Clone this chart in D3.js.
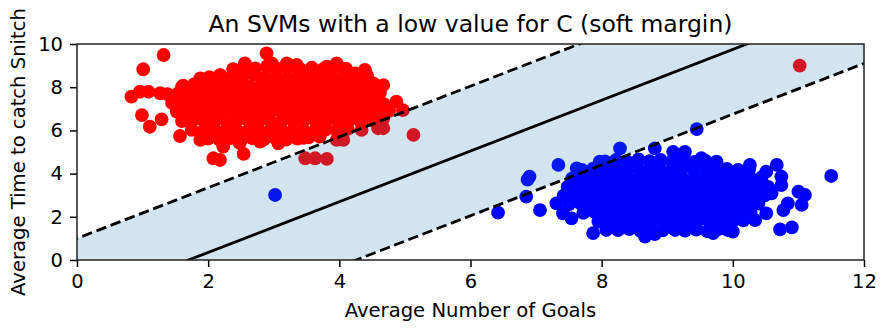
<!DOCTYPE html>
<html>
<head>
<meta charset="utf-8">
<script src="https://cdn.jsdelivr.net/npm/d3@7"></script>
<style>
  html, body { margin: 0; padding: 0; background: #fff; }
  svg { display: block; }
  text { font-family: "DejaVu Sans", sans-serif; fill: #000; }
</style>
</head>
<body>
<svg id="chart" width="884" height="328"></svg>
<script>
// ---------- data ----------
const titleText = "An SVMs with a low value for C (soft margin)";
const xLabelText = "Average Number of Goals";
const yLabelText = "Average Time to catch Snitch";
const xTicks = [0, 2, 4, 6, 8, 10, 12];
const yTicks = [0, 2, 4, 6, 8, 10];
const xDomain = [0, 12];
const yDomain = [0, 10];

// decision boundary y = slope * x + intercept
const lineSlope = 1.175;
const upperMarginIntercept = 1.0;
const boundaryIntercept = -2.0;
const lowerMarginIntercept = -5.0;

const redPoints = [
  [1.32,9.49],[1.01,8.83],[0.83,7.56],[0.96,7.79],[1.09,7.79],[0.99,6.71],[1.11,6.17],[1.29,6.51],[1.27,7.72],
  [1.57,5.74],[1.88,5.56],[2.08,4.71],[2.18,4.63],[2.54,4.91],[2.23,5.25],[2.89,9.57],[2.97,9.1],[2.56,9.1],
  [1.88,8.41],[1.6,8.02],[2.18,8.56],[3.2,9.1],[3.35,9.03],[3.81,8.95],[3.96,9.1],[4.24,8.64],[4.39,8.8],
  [4.52,8.18],[3.6,8.64],[3.48,4.71],[3.63,4.71],[3.81,4.68],[3.96,5.56],[4.06,5.56],[4.34,6.02],[4.59,6.1],
  [2.48,5.42],[2.79,5.48],[3.07,5.4],[3.45,5.65],[3.7,5.71],[4.67,8.1],[4.62,7.1],[4.87,7.33],[4.97,6.94],
  [4.67,6.56],[4.67,6.1],[5.13,5.79],[4.52,7.7],[11.02,9.0],
  [2.38,8.84],[2.55,8.95],[2.72,8.87],[2.9,8.97],[3.05,8.86],[3.22,8.93],[3.4,8.85],[3.58,8.91],[3.75,8.83],[3.92,8.94],[4.1,8.86],
  [2.02,8.47],[2.19,8.55],[2.36,8.44],[2.53,8.52],[2.7,8.58],[2.87,8.46],[3.04,8.53],[3.21,8.45],[3.38,8.56],[3.55,8.48],[3.72,8.54],[3.89,8.43],[4.06,8.51],[4.23,8.47],[4.42,8.55],
  [1.62,8.07],[1.79,8.14],[1.96,8.04],[2.13,8.12],[2.3,8.06],[2.47,8.15],[2.64,8.03],[2.81,8.11],[2.98,8.08],[3.15,8.16],[3.32,8.05],[3.49,8.12],[3.66,8.07],[3.83,8.14],[4.0,8.04],[4.17,8.11],[4.34,8.06],[4.52,8.13],
  [1.38,7.68],[1.55,7.74],[1.72,7.65],[1.89,7.72],[2.06,7.67],[2.23,7.75],[2.4,7.66],[2.57,7.71],[2.74,7.64],[2.91,7.73],[3.08,7.69],[3.25,7.76],[3.42,7.65],[3.59,7.72],[3.76,7.67],[3.93,7.74],[4.1,7.66],[4.27,7.71],[4.44,7.68],[4.62,7.74],
  [1.45,7.27],[1.62,7.33],[1.79,7.24],[1.96,7.31],[2.13,7.26],[2.3,7.34],[2.47,7.25],[2.64,7.32],[2.81,7.28],[2.98,7.35],[3.15,7.24],[3.32,7.3],[3.49,7.27],[3.66,7.33],[3.83,7.25],[4.0,7.31],[4.17,7.26],[4.34,7.34],[4.51,7.28],[4.68,7.22],
  [1.52,6.87],[1.69,6.93],[1.86,6.84],[2.03,6.91],[2.2,6.86],[2.37,6.94],[2.54,6.85],[2.71,6.92],[2.88,6.88],[3.05,6.95],[3.22,6.84],[3.39,6.9],[3.56,6.87],[3.73,6.93],[3.9,6.85],[4.07,6.91],[4.24,6.86],[4.41,6.92],[4.58,6.84],[4.76,6.9],
  [1.6,6.43],[1.77,6.49],[1.94,6.41],[2.11,6.47],[2.28,6.42],[2.45,6.5],[2.62,6.44],[2.79,6.48],[2.96,6.4],[3.13,6.46],[3.3,6.43],[3.47,6.5],[3.64,6.41],[3.81,6.47],[3.98,6.44],[4.15,6.49],[4.32,6.42],[4.5,6.46],
  [1.75,6.02],[1.92,5.96],[2.09,6.04],[2.26,5.98],[2.43,6.05],[2.6,5.97],[2.77,6.03],[2.94,5.99],[3.11,6.06],[3.28,5.96],[3.45,6.02],[3.62,5.98],[3.79,6.04],[3.96,6.0],[4.13,6.07],
  [2.0,5.62],[2.17,5.57],[2.34,5.64],[2.51,5.58],[2.68,5.63],[2.85,5.59],[3.02,5.65],[3.19,5.57],[3.36,5.62],[3.53,5.68],[3.7,5.75]
];

const bluePoints = [
  [3.02,3.01],[6.42,2.19],[6.85,2.93],[6.9,3.86],[6.87,3.72],[7.06,2.31],[7.34,4.4],[7.62,4.24],[8.28,5.17],[8.81,5.17],
  [7.31,2.62],[7.41,2.16],[7.54,1.93],[7.87,1.24],[8.07,1.39],[8.66,1.08],[7.97,4.55],[9.09,5.01],[9.27,5.01],[9.45,6.06],
  [9.52,4.71],[9.75,4.55],[10.26,4.4],[10.67,4.4],[10.51,4.09],[10.74,3.86],[11.5,3.89],[10.74,3.47],[10.59,3.09],[11.0,3.16],
  [11.1,3.01],[11.05,2.55],[10.84,2.62],[10.77,2.31],[10.51,2.16],[10.72,1.42],[10.9,1.51],[10.34,1.85],[10.0,1.31],[9.7,1.24],
  [9.12,1.39],[8.81,1.2],[8.43,1.47],[8.28,2.08],[10.16,3.78],[10.31,3.7],[9.9,4.17],
  [8.05,4.57],[8.22,4.63],[8.39,4.55],[8.56,4.66],[8.73,4.58],[8.9,4.64],[9.07,4.56],[9.24,4.62],[9.41,4.54],[9.58,4.6],[9.75,4.52],
  [7.7,4.17],[7.87,4.23],[8.04,4.15],[8.21,4.22],[8.38,4.18],[8.55,4.25],[8.72,4.16],[8.89,4.21],[9.06,4.14],[9.23,4.23],[9.4,4.19],[9.57,4.24],[9.74,4.15],[9.91,4.22],[10.08,4.17],[10.25,4.21],
  [7.55,3.78],[7.72,3.84],[7.89,3.75],[8.06,3.82],[8.23,3.77],[8.4,3.85],[8.57,3.76],[8.74,3.83],[8.91,3.79],[9.08,3.86],[9.25,3.74],[9.42,3.81],[9.59,3.78],[9.76,3.84],[9.93,3.76],[10.1,3.82],[10.27,3.77],[10.44,3.83],
  [7.48,3.38],[7.65,3.43],[7.82,3.35],[7.99,3.42],[8.16,3.37],[8.33,3.45],[8.5,3.36],[8.67,3.41],[8.84,3.34],[9.01,3.43],[9.18,3.39],[9.35,3.44],[9.52,3.35],[9.69,3.42],[9.86,3.37],[10.03,3.44],[10.2,3.36],[10.37,3.41],[10.54,3.38],
  [7.42,2.98],[7.59,3.03],[7.76,2.95],[7.93,3.02],[8.1,2.97],[8.27,3.05],[8.44,2.96],[8.61,3.01],[8.78,2.94],[8.95,3.03],[9.12,2.99],[9.29,3.04],[9.46,2.95],[9.63,3.02],[9.8,2.97],[9.97,3.04],[10.14,2.96],[10.31,3.01],[10.48,2.98],
  [7.5,2.58],[7.67,2.63],[7.84,2.55],[8.01,2.62],[8.18,2.57],[8.35,2.65],[8.52,2.56],[8.69,2.61],[8.86,2.54],[9.03,2.63],[9.2,2.59],[9.37,2.64],[9.54,2.55],[9.71,2.62],[9.88,2.57],[10.05,2.64],[10.22,2.56],[10.39,2.61],
  [7.72,2.18],[7.89,2.23],[8.06,2.15],[8.23,2.22],[8.4,2.17],[8.57,2.25],[8.74,2.16],[8.91,2.21],[9.08,2.14],[9.25,2.23],[9.42,2.19],[9.59,2.24],[9.76,2.15],[9.93,2.22],[10.1,2.17],[10.27,2.21],
  [7.95,1.78],[8.12,1.84],[8.29,1.75],[8.46,1.82],[8.63,1.77],[8.8,1.85],[8.97,1.76],[9.14,1.83],[9.31,1.79],[9.48,1.86],[9.65,1.74],[9.82,1.81],[9.99,1.77],[10.16,1.83],
  [8.25,1.38],[8.42,1.43],[8.59,1.35],[8.76,1.42],[8.93,1.37],[9.1,1.45],[9.27,1.36],[9.44,1.41],[9.61,1.34],[9.78,1.43],[9.92,1.39]
];

// ---------- layout ----------
const plot = { left: 77, right: 864, top: 44, bottom: 260 };

const svg = d3.select("#chart");
const x = d3.scaleLinear().domain(xDomain).range([plot.left, plot.right]);
const y = d3.scaleLinear().domain(yDomain).range([plot.bottom, plot.top]);

svg.append("defs").append("clipPath").attr("id", "plotClip")
  .append("rect")
  .attr("x", plot.left).attr("y", plot.top)
  .attr("width", plot.right - plot.left).attr("height", plot.bottom - plot.top);

const inner = svg.append("g").attr("clip-path", "url(#plotClip)");

// points
const pointR = 6.9;
inner.append("g").selectAll("circle.red").data(redPoints).join("circle")
  .attr("class", "red")
  .attr("cx", d => x(d[0])).attr("cy", d => y(d[1])).attr("r", pointR)
  .attr("fill", "#ff0000");
inner.append("g").selectAll("circle.blue").data(bluePoints).join("circle")
  .attr("class", "blue")
  .attr("cx", d => x(d[0])).attr("cy", d => y(d[1])).attr("r", pointR)
  .attr("fill", "#0000ff");

const lineFn = b => xv => lineSlope * xv + b;
const xs = [xDomain[0] - 1, xDomain[1] + 1];

// margin band (semi-transparent, drawn over the points)
const area = d3.area()
  .x(d => x(d))
  .y0(d => y(lineFn(lowerMarginIntercept)(d)))
  .y1(d => y(lineFn(upperMarginIntercept)(d)));
inner.append("path")
  .datum(xs)
  .attr("d", area)
  .attr("fill", "#1f77b4")
  .attr("fill-opacity", 0.2);

// lines
inner.append("line")
  .attr("x1", x(xs[0])).attr("y1", y(lineFn(boundaryIntercept)(xs[0])))
  .attr("x2", x(xs[1])).attr("y2", y(lineFn(boundaryIntercept)(xs[1])))
  .attr("stroke", "#000").attr("stroke-width", 2.8);
[upperMarginIntercept, lowerMarginIntercept].forEach(b => {
  inner.append("line")
    .attr("x1", x(xs[0])).attr("y1", y(lineFn(b)(xs[0])))
    .attr("x2", x(xs[1])).attr("y2", y(lineFn(b)(xs[1])))
    .attr("stroke", "#000").attr("stroke-width", 2.8)
    .attr("stroke-dasharray", "10.5,4.7");
});

// axes
const xAxis = d3.axisBottom(x).tickValues(xTicks).tickSize(7).tickPadding(7).tickFormat(d3.format("d"));
const yAxis = d3.axisLeft(y).tickValues(yTicks).tickSize(7).tickPadding(7).tickFormat(d3.format("d"));

const gx = svg.append("g").attr("transform", `translate(0,${plot.bottom})`).call(xAxis);
const gy = svg.append("g").attr("transform", `translate(${plot.left},0)`).call(yAxis);
[gx, gy].forEach(g => {
  g.select(".domain").remove();
  g.selectAll(".tick line").attr("stroke", "#000").attr("stroke-width", 1.5);
  g.selectAll(".tick text").attr("font-family", "DejaVu Sans").attr("font-size", 19.5).attr("fill", "#000");
});

// frame
svg.append("rect")
  .attr("x", plot.left).attr("y", plot.top)
  .attr("width", plot.right - plot.left).attr("height", plot.bottom - plot.top)
  .attr("fill", "none").attr("stroke", "#222").attr("stroke-width", 1.5);

// title & labels
const cx = (plot.left + plot.right) / 2;
svg.append("text")
  .attr("x", cx).attr("y", 32)
  .attr("text-anchor", "middle").attr("font-size", 23.5)
  .text(titleText);

svg.append("text")
  .attr("x", cx).attr("y", 317)
  .attr("text-anchor", "middle").attr("font-size", 19.6)
  .text(xLabelText);

svg.append("text")
  .attr("transform", `translate(25,${(plot.top + plot.bottom) / 2}) rotate(-90)`)
  .attr("text-anchor", "middle").attr("font-size", 19.6)
  .text(yLabelText);
</script>
</body>
</html>
